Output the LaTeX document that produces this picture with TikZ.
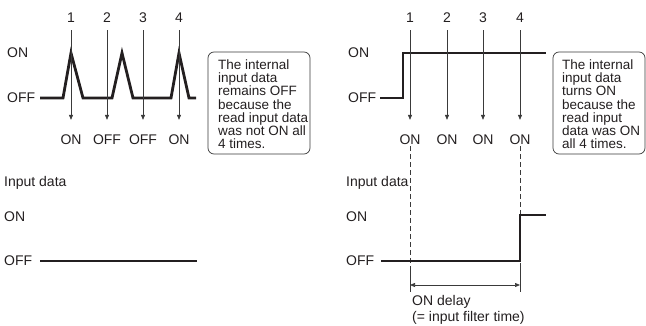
\documentclass[tikz,border=0pt]{standalone}
\usepackage{fontspec}
\setmainfont{Liberation Sans}
\usetikzlibrary{arrows.meta}
\definecolor{ink}{HTML}{231F20}
\definecolor{thin}{HTML}{3A3A3A}
\begin{document}
\begin{tikzpicture}[x=1pt,y=-1pt,
  every node/.style={text=ink, font=\fontsize{14}{16}\selectfont},
  lbl/.style={inner sep=1pt},
  wlbl/.style={inner sep=1pt, anchor=west},
  wave/.style={draw=ink, line width=2.8pt, line join=miter},
  arr/.style={draw=thin, line width=0.7pt, -{Triangle[length=5pt,width=4pt]}, shorten <=6pt, shorten >=14pt},
  dsh/.style={draw=thin, line width=0.7pt, dash pattern=on 5pt off 3pt},
  tick/.style={draw=thin, line width=0.7pt},
  darr/.style={draw=thin, line width=0.7pt, {Triangle[length=5pt,width=4pt]}-{Triangle[length=5pt,width=4pt]}},
  note/.style={inner sep=0pt, anchor=north west, align=left, font=\fontsize{13.5}{13.2}\selectfont},
  notebox/.style={draw=thin, line width=0.7pt, rounded corners=6pt}]
\useasboundingbox (0,0) rectangle (646,326);

% ---------- left upper ----------
\node[wlbl] (lon) at (6,53) {ON};
\node[wlbl] (loff) at (6,98) {OFF};
\draw[wave] (40,98) -- (63,98) -- (71,53) -- (83,98) -- (112,98) -- (122,53) -- (133,98) -- (171,98) -- (179,53) -- (189,98) -- (196,98);
\node[lbl] (la1) at (71,18) {1};
\node[lbl] (la2) at (107,18) {2};
\node[lbl] (la3) at (143,18) {3};
\node[lbl] (la4) at (179,18) {4};
\node[lbl] (lb1) at (71,140) {ON};
\node[lbl] (lb2) at (107,140) {OFF};
\node[lbl] (lb3) at (143,140) {OFF};
\node[lbl] (lb4) at (179,140) {ON};
\draw[arr] (la1) -- (lb1);
\draw[arr] (la2) -- (lb2);
\draw[arr] (la3) -- (lb3);
\draw[arr] (la4) -- (lb4);
\node[note] (lnote) at (218,59.5) {The internal\\input data\\remains OFF\\because the\\read input data\\was not ON all\\4 times.};
\draw[notebox] (208,52) rectangle (310,154);

% ---------- right upper ----------
\node[wlbl] (ron) at (347,53) {ON};
\node[wlbl] (roff) at (347,98) {OFF};
\draw[wave] (380,98) -- (403,98) -- (403,53) -- (546,53);
\node[lbl] (ra1) at (410,18) {1};
\node[lbl] (ra2) at (447,18) {2};
\node[lbl] (ra3) at (483,18) {3};
\node[lbl] (ra4) at (520,18) {4};
\node[lbl] (rb1) at (410,140) {ON};
\node[lbl] (rb2) at (447,140) {ON};
\node[lbl] (rb3) at (483,140) {ON};
\node[lbl] (rb4) at (520,140) {ON};
\draw[arr] (ra1) -- (rb1);
\draw[arr] (ra2) -- (rb2);
\draw[arr] (ra3) -- (rb3);
\draw[arr] (ra4) -- (rb4);
\node[note] (rnote) at (562,59.5) {The internal\\input data\\turns ON\\because the\\read input\\data was ON\\all 4 times.};
\draw[notebox] (553,52) rectangle (645,154);

% ---------- left lower ----------
\node[wlbl] (lin) at (3,183) {Input data};
\node[wlbl] (lon2) at (3,217) {ON};
\node[wlbl] (loff2) at (3,261) {OFF};
\draw[wave] (40,261) -- (197,261);

% ---------- right lower ----------
\node[wlbl] (rin) at (345,183) {Input data};
\node[wlbl] (ron2) at (345,217) {ON};
\node[wlbl] (roff2) at (345,261) {OFF};
\coordinate (dA) at (410,271);
\coordinate (dB) at (520,215);
\coordinate (eA) at (410,292);
\coordinate (fB) at (520,263);
\coordinate (eB) at (520,292);
\coordinate (pA) at (410,285);
\coordinate (pB) at (520,285);
\draw[dsh] (rb1) -- (dA);
\draw[dsh] (rb4) -- (dB);
\draw[wave] (381,261) -- (520,261) -- (520,215) -- (546,215);
\draw[tick] (dA) -- (eA);
\draw[tick] (fB) -- (eB);
\draw[darr] (pA) -- (pB);
\node[wlbl] (dl1) at (411,302) {ON delay};
\node[wlbl] (dl2) at (411,318) {(= input filter time)};
\end{tikzpicture}
\end{document}
